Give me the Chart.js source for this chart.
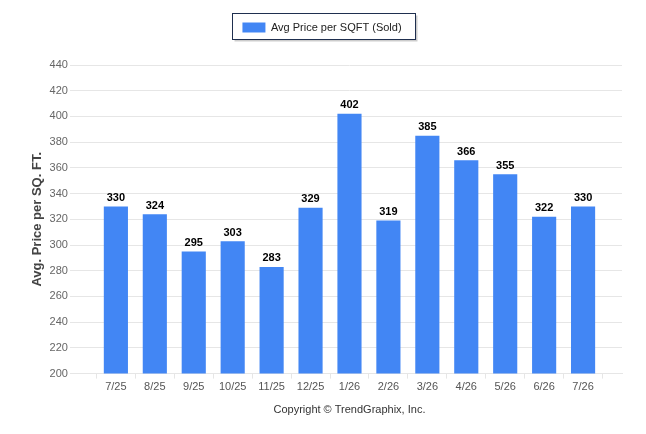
<!DOCTYPE html>
<html><head><meta charset="utf-8">
<script src="https://cdn.jsdelivr.net/npm/chart.js@4"></script>
<style>html,body{margin:0;padding:0;background:#fff}</style>
</head><body>
<canvas id="c" width="646" height="434" style="width:646px;height:434px"></canvas>
<script>
const categories = ['7/25','8/25','9/25','10/25','11/25','12/25','1/26','2/26','3/26','4/26','5/26','6/26','7/26'];
const avgPrice = [330,324,295,303,283,329,402,319,385,366,355,322,330];
const yTicks = [200,220,240,260,280,300,320,340,360,380,400,420,440];
const seriesName = 'Avg Price per SQFT (Sold)';
const yTitle = 'Avg. Price per SQ. FT.';
const xTitle = 'Copyright \u00A9 TrendGraphix, Inc.';

const labels = [''].concat(categories, ['']);
const values = [null].concat(avgPrice, [null]);
const FONT = "'Liberation Sans', Arial, sans-serif";

const helper = {
  id: 'helper',
  beforeUpdate(chart) {
    const lg = chart.legend;
    if (lg && !lg._patched) {
      const origFit = lg.fit;
      lg.fit = function () { origFit.call(this); this.height += 22; };
      lg._patched = true;
    }
  },
  afterLayout(chart) {
    const lg = chart.legend;
    if (lg) { lg.left -= 4; lg.right -= 4; }
  },
  afterDraw(chart) {
    const ctx = chart.ctx;
    const hb = chart.legend && chart.legend.legendHitBoxes && chart.legend.legendHitBoxes[0];
    if (hb) {
      const x = Math.round(hb.left - 10) + 0.5, y = Math.round(hb.top - 9) + 0.5;
      const w = Math.round(hb.width + 24), h = Math.round(hb.height + 15);
      ctx.save();
      ctx.fillStyle = 'rgba(0,0,0,0.2)';
      ctx.fillRect(x + 2, y + 2, w, h);
      ctx.fillStyle = '#fff';
      ctx.fillRect(x, y, w, h);
      ctx.strokeStyle = '#1f2f4f';
      ctx.lineWidth = 1;
      ctx.strokeRect(x, y, w, h);
      ctx.restore();
      chart.legend.draw();
    }
    const meta = chart.getDatasetMeta(0);
    ctx.save();
    ctx.font = "bold 11px " + FONT;
    ctx.fillStyle = '#000';
    ctx.textAlign = 'center';
    ctx.textBaseline = 'bottom';
    meta.data.forEach((bar, i) => {
      const v = values[i];
      if (v === null || v === undefined) return;
      ctx.fillText(String(v), bar.x, bar.y - 3);
    });
    ctx.restore();
  }
};

new Chart(document.getElementById('c'), {
  type: 'bar',
  data: {
    labels: labels,
    datasets: [{
      label: seriesName,
      data: values,
      backgroundColor: '#4286f4',
      borderWidth: 0,
      barPercentage: 1,
      categoryPercentage: 0.62
    }]
  },
  options: {
    responsive: false,
    animation: false,
    devicePixelRatio: 1,
    layout: { padding: { top: 22, left: 30, right: 24, bottom: 15 } },
    plugins: {
      legend: {
        display: true,
        position: 'top',
        labels: {
          boxWidth: 23, boxHeight: 10, padding: 0,
          color: '#222',
          font: { family: FONT, size: 11 }
        }
      },
      tooltip: { enabled: false }
    },
    scales: {
      x: {
        type: 'category',
        offset: false,
        grid: { display: true, drawOnChartArea: false, drawTicks: true, tickLength: 5, color: '#e6e6e6' },
        border: { display: true, color: '#e6e6e6' },
        ticks: { color: '#555', font: { family: FONT, size: 11 }, autoSkip: false, maxRotation: 0, padding: 2 },
        title: { display: true, text: xTitle, color: '#333', font: { family: FONT, size: 11 }, padding: { top: 8, bottom: 2 } }
      },
      y: {
        min: 200, max: 440,
        afterBuildTicks(axis) { axis.ticks = yTicks.map(v => ({ value: v })); },
        grid: { color: '#e6e6e6', tickLength: 7, drawTicks: true },
        border: { display: false },
        ticks: { color: '#666', font: { family: FONT, size: 11 }, padding: 2 },
        title: { display: true, text: yTitle, color: '#444', font: { family: FONT, size: 13, weight: 'bold' }, padding: { top: 0, bottom: 2 } }
      }
    }
  },
  plugins: [helper]
});
</script>
</body></html>
